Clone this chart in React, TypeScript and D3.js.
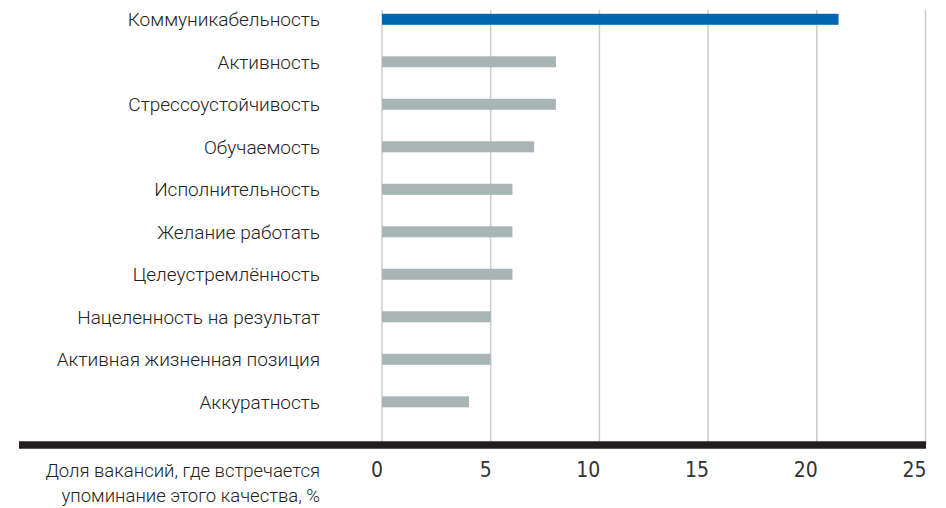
import React from "react";
import * as d3 from "d3";

// qualities and share of vacancies mentioning them, %
const categories = [
  "Коммуникабельность",
  "Активность",
  "Стрессоустойчивость",
  "Обучаемость",
  "Исполнительность",
  "Желание работать",
  "Целеустремлённость",
  "Нацеленность на результат",
  "Активная жизненная позиция",
  "Аккуратность",
];
const values = [21, 8, 8, 7, 6, 6, 6, 5, 5, 4];
const ticks = [0, 5, 10, 15, 20, 25];
const axisTitle = ["Доля вакансий, где встречается", "упоминание этого качества, %"];

const W = 946;
const H = 508;
const FONT = "Roboto, 'Noto Sans', sans-serif";
const TICK_FONT = "'Liberation Sans Narrow', 'DejaVu Sans Condensed', Roboto, sans-serif";

export default function App() {
  const x = d3.scaleLinear().domain([0, 25]).range([382, 925.5]);
  const y = d3.scalePoint<string>().domain(categories).range([19.3, 401.8]);
  const barH = 11;
  const axisY = 445;

  return (
    <div style={{ position: "absolute", left: 0, top: 0 }}>
      <svg width={W} height={H} style={{ display: "block", background: "#fff" }}>
        {/* grid */}
        {ticks.map((t) => (
          <line
            key={t}
            x1={x(t)}
            x2={x(t)}
            y1={10}
            y2={axisY}
            stroke="#cccccc"
            strokeWidth={1.5}
          />
        ))}
        {/* bars */}
        {categories.map((c, i) => (
          <g key={c}>
            <rect
              x={x(0)}
              y={(y(c) ?? 0) - barH / 2}
              width={x(values[i]) - x(0)}
              height={barH}
              fill={i === 0 ? "#0066b3" : "#a7b5b5"}
            />
            <text
              x={320}
              y={(y(c) ?? 0) + 7}
              textAnchor="end"
              fontFamily={FONT}
              fontSize={19}
              fontWeight={300}
              fill="#222"
            >
              {c}
            </text>
          </g>
        ))}
        {/* baseline */}
        <line x1={19} x2={926} y1={axisY} y2={axisY} stroke="#231f20" strokeWidth={7.5} />
        {ticks.map((t) => (
          <text
            key={t}
            x={x(t) + 1}
            y={477}
            textAnchor="end"
            fontFamily={TICK_FONT}
            fontSize={21}
            fill="#333"
          >
            {t}
          </text>
        ))}
        {axisTitle.map((s, i) => (
          <text
            key={s}
            x={320}
            y={477 + i * 25}
            textAnchor="end"
            fontFamily={FONT}
            fontSize={18.5}
            fontWeight={300}
            fill="#222"
          >
            {s}
          </text>
        ))}
      </svg>
    </div>
  );
}
